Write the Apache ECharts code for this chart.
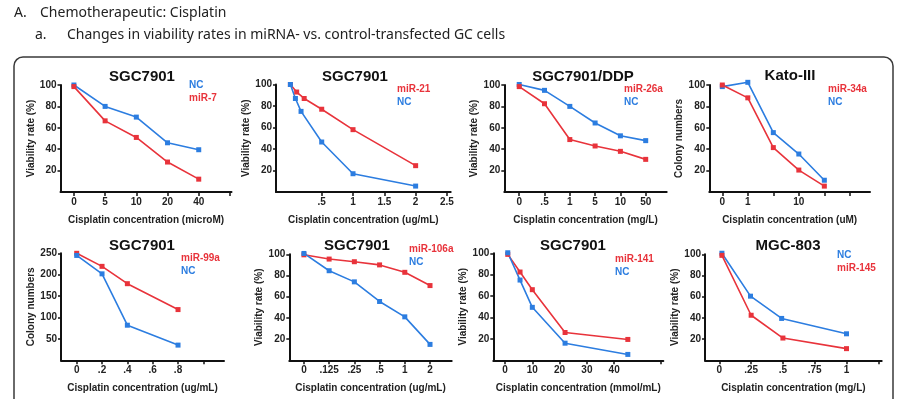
<!DOCTYPE html>
<html lang="en">
<head>
<meta charset="UTF-8">
<title>Cisplatin viability</title>
<script src="https://cdn.jsdelivr.net/npm/echarts@6/dist/echarts.min.js"></script>
<style>
  html, body { margin: 0; padding: 0; background: #fff; }
  #chart { width: 907px; height: 399px; }
</style>
</head>
<body>
<div id="chart"></div>
<script>
// ---- data ----
var yTicks100 = [20, 40, 60, 80, 100];
var yTicks250 = [50, 100, 150, 200, 250];

// 1. SGC7901, miR-7 (evenly spaced doses)
var p1Labels = ['0', '5', '10', '20', '40'];
var p1NC = [100, 80, 70, 46, 39.5];
var p1Mir = [98.5, 66.5, 51, 28, 12];

// 2. SGC7901, miR-21 (ug/mL)
var p2TickVals = [0.5, 1, 1.5, 2, 2.5];
var p2Labels = ['.5', '1', '1.5', '2', '2.5'];
var p2DoseNC = [0, 0.08, 0.17, 0.5, 1, 2];
var p2NC = [100, 87, 75, 46.5, 17, 5.5];
var p2DoseMir = [0, 0.1, 0.22, 0.5, 1, 2];
var p2Mir = [100, 93, 87, 77, 58, 24.5];

// 3. SGC7901/DDP, miR-26a
var p3Labels = ['0', '.5', '1', '5', '10', '50'];
var p3NC = [100.5, 95, 80, 64.5, 52.5, 48];
var p3Mir = [98.5, 82.5, 49, 43, 38, 30.5];

// 4. Kato-III, miR-34a (colony numbers)
var p4Labels = ['0', '1', '', '10', '', ''];
var p4NC = [98.5, 102.5, 55.5, 35.5, 11];
var p4Mir = [100, 88, 41.5, 20.5, 5.5];

// 5. SGC7901, miR-99a (colony numbers, ug/mL)
var p5TickVals = [0, 0.2, 0.4, 0.6, 0.8, 1];
var p5Labels = ['0', '.2', '.4', '.6', '.8', ''];
var p5Dose = [0, 0.2, 0.4, 0.8];
var p5Mir = [250, 219.5, 179, 118.5];
var p5NC = [245, 202, 82, 35.5];

// 6. SGC7901, miR-106a
var p6Labels = ['0', '.125', '.25', '.5', '1', '2'];
var p6Mir = [99.5, 95.5, 93, 90, 83, 70.5];
var p6NC = [100.8, 84.5, 74, 55.5, 41, 15];

// 7. SGC7901, miR-141 (mmol/mL)
var p7TickVals = [0, 10, 20, 30, 40, 57];
var p7Labels = ['0', '10', '20', '30', '40', ''];
var p7Dose = [1, 5.5, 10, 22, 45];
var p7Mir = [99, 82.5, 66, 26, 19.5];
var p7NC = [100.5, 75, 49.5, 16, 5.5];

// 8. MGC-803, miR-145 (mg/L)
var p8TickVals = [0, 0.25, 0.5, 0.75, 1, 1.25];
var p8Labels = ['0', '.25', '.5', '.75', '1', ''];
var p8DoseNC = [0.02, 0.245, 0.49, 1];
var p8NC = [101, 60.5, 39.5, 25];
var p8DoseMir = [0.02, 0.25, 0.5, 1];
var p8Mir = [99, 42.5, 21, 11];

// ---- style / layout ----
var BLUE = '#2c7de0', RED = '#e8333b';
var FONT = '"Liberation Sans", Arial, sans-serif';
var VIA = 'Viability rate (%)', COL = 'Colony numbers';

function idx(arr) { return arr.map(function (_, i) { return i; }); }
function pairs(xs, ys) { return ys.map(function (y, i) { return [xs[i], y]; }); }

var panels = [
  { title: 'SGC7901', titleAt: [142, 77], grid: [60.5, 85, 171, 107], xr: [-0.43, 5.05],
    ticks: [0, 1, 2, 3, 4, 5], labels: p1Labels, xName: 'Cisplatin concentration (microM)',
    yName: VIA, yGap: 19, yMax: 100, yTicks: yTicks100, legAt: [189, 85],
    leg: [['NC', BLUE], ['miR-7', RED]],
    lines: [[pairs(idx(p1NC), p1NC), BLUE], [pairs(idx(p1Mir), p1Mir), RED]] },
  { title: 'SGC7901', titleAt: [355, 77], grid: [276, 84.5, 174.7, 107.5], xr: [-0.23, 2.56],
    ticks: p2TickVals, labels: p2Labels, xName: 'Cisplatin concentration (ug/mL)',
    yName: VIA, yGap: 16, yMax: 100, yTicks: yTicks100, legAt: [397, 89],
    leg: [['miR-21', RED], ['NC', BLUE]],
    lines: [[pairs(p2DoseMir, p2Mir), RED], [pairs(p2DoseNC, p2NC), BLUE]] },
  { title: 'SGC7901/DDP', titleAt: [583, 77], grid: [504.3, 85, 162.4, 107], xr: [-0.59, 5.83],
    ticks: [0, 1, 2, 3, 4, 5], labels: p3Labels, xName: 'Cisplatin concentration (mg/L)',
    yName: VIA, yGap: 21, yMax: 100, yTicks: yTicks100, legAt: [624, 89],
    leg: [['miR-26a', RED], ['NC', BLUE]],
    lines: [[pairs(idx(p3NC), p3NC), BLUE], [pairs(idx(p3Mir), p3Mir), RED]] },
  { title: 'Kato-III', titleAt: [790, 76], grid: [709.3, 85, 160.7, 107], xr: [-0.51, 5.79],
    ticks: [0, 1, 2, 3, 4, 5], labels: p4Labels, xName: 'Cisplatin concentration (uM)',
    yName: COL, yGap: 20, yMax: 100, yTicks: yTicks100, legAt: [828, 89],
    leg: [['miR-34a', RED], ['NC', BLUE]],
    lines: [[pairs(idx(p4NC), p4NC), BLUE], [pairs(idx(p4Mir), p4Mir), RED]] },
  { title: 'SGC7901', titleAt: [142, 246], grid: [61, 253.3, 163, 107], xr: [-0.124, 1.163],
    ticks: p5TickVals, labels: p5Labels, xName: 'Cisplatin concentration (ug/mL)',
    yName: COL, yGap: 19, yMax: 250, yTicks: yTicks250, legAt: [181, 258],
    leg: [['miR-99a', RED], ['NC', BLUE]],
    lines: [[pairs(p5Dose, p5Mir), RED], [pairs(p5Dose, p5NC), BLUE]] },
  { title: 'SGC7901', titleAt: [357, 246], grid: [289.3, 254.3, 162.4, 106], xr: [-0.58, 5.86],
    ticks: [0, 1, 2, 3, 4, 5], labels: p6Labels, xName: 'Cisplatin concentration (ug/mL)',
    yName: VIA, yGap: 21.5, yMax: 100, yTicks: yTicks100, legAt: [409, 249],
    leg: [['miR-106a', RED], ['NC', BLUE]],
    lines: [[pairs(idx(p6Mir), p6Mir), RED], [pairs(idx(p6NC), p6NC), BLUE]] },
  { title: 'SGC7901', titleAt: [573, 246], grid: [493.3, 253.3, 170, 107], xr: [-4.3, 58],
    ticks: p7TickVals, labels: p7Labels, xName: 'Cisplatin concentration (mmol/mL)',
    yName: VIA, yGap: 15.5, yMax: 100, yTicks: yTicks100, legAt: [615, 259],
    leg: [['miR-141', RED], ['NC', BLUE]],
    lines: [[pairs(p7Dose, p7Mir), RED], [pairs(p7Dose, p7NC), BLUE]] },
  { title: 'MGC-803', titleAt: [788, 246], grid: [705, 254.3, 176.7, 106], xr: [-0.113, 1.277],
    ticks: p8TickVals, labels: p8Labels, xName: 'Cisplatin concentration (mg/L)',
    yName: VIA, yGap: 17, yMax: 100, yTicks: yTicks100, legAt: [837, 255],
    leg: [['NC', BLUE], ['miR-145', RED]],
    lines: [[pairs(p8DoseNC, p8NC), BLUE], [pairs(p8DoseMir, p8Mir), RED]] }
];

var axisLine = { show: true, onZero: false, lineStyle: { color: '#111', width: 2 } };
var nameStyle = { fontFamily: FONT, fontWeight: 'bold', fontSize: 10, color: '#222' };

var grids = [], xAxes = [], yAxes = [], series = [];
var graphics = [
  { type: 'rect', shape: { x: 14, y: 57, width: 879, height: 400, r: 9 },
    style: { fill: 'none', stroke: '#3a3a3a', lineWidth: 1.5 } },
  { type: 'text', style: { text: 'A.', x: 14, y: 13, textVerticalAlign: 'middle', font: '14px "Noto Sans", sans-serif', fill: '#222' } },
  { type: 'text', style: { text: 'Chemotherapeutic: Cisplatin', x: 40, y: 13, textVerticalAlign: 'middle', font: '14px "Noto Sans", sans-serif', fill: '#222' } },
  { type: 'text', style: { text: 'a.', x: 35, y: 35, textVerticalAlign: 'middle', font: '14px "Noto Sans", sans-serif', fill: '#222' } },
  { type: 'text', style: { text: 'Changes in viability rates in miRNA- vs. control-transfected GC cells', x: 67, y: 35, textVerticalAlign: 'middle', font: '14px "Noto Sans", sans-serif', fill: '#222' } }
];

panels.forEach(function (p, i) {
  grids.push({ left: p.grid[0], top: p.grid[1], width: p.grid[2], height: p.grid[3] });
  xAxes.push({
    type: 'value', gridIndex: i, min: p.xr[0], max: p.xr[1],
    axisLine: axisLine, splitLine: { show: false },
    axisTick: { show: true, length: 4, customValues: p.ticks, lineStyle: { color: '#111', width: 1.5 } },
    axisLabel: {
      customValues: p.ticks, margin: 5, fontFamily: FONT, fontWeight: 'bold', fontSize: 10, color: '#222',
      formatter: function (v) {
        for (var k = 0; k < p.ticks.length; k++) if (Math.abs(p.ticks[k] - v) < 1e-6) return p.labels[k] || '';
        return '';
      }
    },
    name: p.xName, nameLocation: 'middle', nameGap: 23, nameTextStyle: nameStyle
  });
  yAxes.push({
    type: 'value', gridIndex: i, min: 0, max: p.yMax,
    axisLine: axisLine, splitLine: { show: false },
    axisTick: { show: true, length: 3, customValues: p.yTicks, lineStyle: { color: '#111', width: 1.5 } },
    axisLabel: { customValues: p.yTicks, margin: 4, fontFamily: FONT, fontWeight: 'bold', fontSize: 10, color: '#222' },
    name: p.yName, nameLocation: 'middle', nameGap: p.yGap, nameTextStyle: nameStyle
  });
  p.lines.forEach(function (l) {
    series.push({
      type: 'line', xAxisIndex: i, yAxisIndex: i, data: l[0], color: l[1], clip: false,
      symbol: 'rect', symbolSize: 5, showSymbol: true, animation: false,
      lineStyle: { width: 1.6, color: l[1] }, itemStyle: { color: l[1] }
    });
  });
  graphics.push({ type: 'text', style: {
    text: p.title, x: p.titleAt[0], y: p.titleAt[1], textAlign: 'center', textVerticalAlign: 'middle',
    font: 'bold 15px ' + FONT, fill: '#111' } });
  p.leg.forEach(function (g, k) {
    graphics.push({ type: 'text', style: {
      text: g[0], x: p.legAt[0], y: p.legAt[1] + k * 13.5, textVerticalAlign: 'middle',
      font: 'bold 10px ' + FONT, fill: g[1] } });
  });
});

var chart = echarts.init(document.getElementById('chart'), null, { renderer: 'canvas' });
chart.setOption({
  backgroundColor: '#fff',
  animation: false,
  grid: grids,
  xAxis: xAxes,
  yAxis: yAxes,
  series: series,
  graphic: graphics
});
</script>
</body>
</html>
